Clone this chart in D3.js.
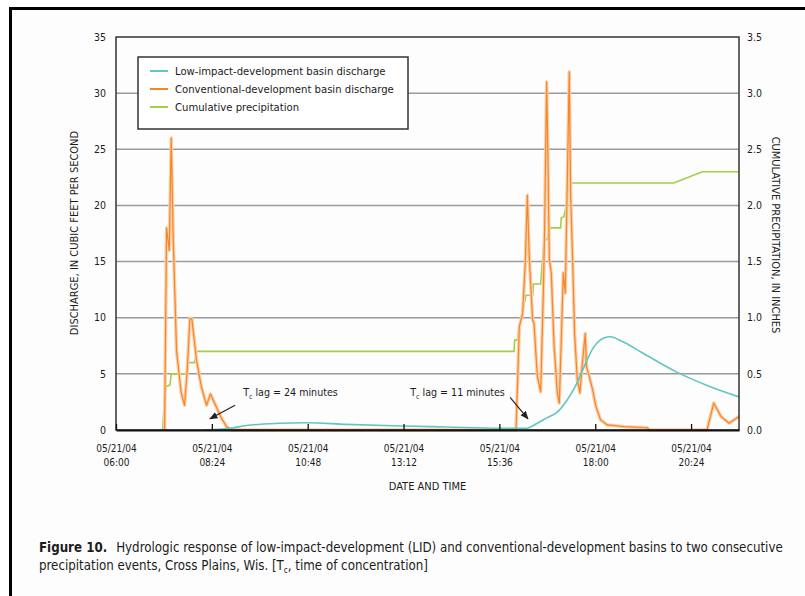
<!DOCTYPE html>
<html>
<head>
<meta charset="utf-8">
<script src="https://cdn.jsdelivr.net/npm/d3@7"></script>
<style>
  body { margin: 0; background: #fff; }
  svg text { font-family: "Liberation Sans Narrow", "DejaVu Sans Condensed", "Arial Narrow", sans-serif; fill: #1c1c1c; }
</style>
</head>
<body>
<svg width="805" height="596"></svg>
<script>
// axis ticks
const tickTimes = ["06:00", "08:24", "10:48", "13:12", "15:36", "18:00", "20:24"];
const dischargeTicks = [0, 5, 10, 15, 20, 25, 30, 35];
const precipTicks = [0, 0.5, 1, 1.5, 2, 2.5, 3, 3.5];

// low-impact-development basin discharge (ft3/s)
const lidTimes = ["08:13", "08:51", "09:16", "10:06", "10:46", "11:46", "13:10", "14:16", "15:36", "16:16", "16:21", "16:33", "16:48",
  "17:03", "17:18", "17:31", "17:43", "17:58", "18:13", "18:23", "18:40", "19:10", "20:01", "20:51", "21:36"];
const lidValues = [0, 0.15, 0.4, 0.6, 0.65, 0.5, 0.36, 0.27, 0.15, 0.15, 0.22, 0.6, 1.1,
  1.6, 2.7, 4.0, 5.6, 7.4, 8.2, 8.3, 7.9, 6.9, 5.2, 3.9, 2.95];

// conventional-development basin discharge (ft3/s)
const convTimes = ["07:13", "07:16", "07:18", "07:20", "07:23", "07:26", "07:31", "07:38", "07:43", "07:47", "07:51", "07:54", "08:01",
  "08:08", "08:16", "08:22", "08:28", "08:38", "08:46", "08:54",
  "16:01", "16:06", "16:11", "16:15", "16:18", "16:21", "16:26", "16:28", "16:33", "16:38", "16:42", "16:44", "16:47", "16:49",
  "16:51", "16:54", "16:58", "17:03", "17:06", "17:09", "17:12", "17:15", "17:21", "17:23", "17:26", "17:29", "17:33", "17:37",
  "17:40", "17:45", "17:47", "17:51", "17:56", "18:01", "18:08", "18:18", "18:43", "19:18", "19:22", "20:48", "20:58", "21:09",
  "21:21", "21:36"];
const convValues = [0, 18, 17, 16, 26, 17, 7, 3.3, 2.2, 5.3, 9.9, 9.9, 6.2,
  3.9, 2.2, 3.2, 2.4, 1.1, 0.3, 0,
  0, 9.2, 10.4, 15, 20.9, 15.2, 9.8, 9.5, 4.8, 3.4, 12.2, 18, 31, 24,
  15.2, 14, 7.7, 3.3, 2.4, 8, 14, 12.2, 31.9, 21, 15.2, 8.6, 4.5, 3.3,
  5.5, 8.6, 5.6, 4.8, 3.6, 2.1, 0.9, 0.45, 0.3, 0.2, 0, 0, 2.4, 1.2,
  0.6, 1.2];

// cumulative precipitation (inches)
const precipTimes = ["07:10", "07:13", "07:16", "07:21", "07:23", "07:45", "07:48", "07:58", "08:01", "15:58", "15:59", "16:03",
  "16:06", "16:16", "16:26", "16:27", "16:38", "16:43", "16:48", "16:51", "17:08", "17:09", "17:13", "17:16", "17:21",
  "19:58", "20:41", "21:36"];
const precipValues = [0, 0.3, 0.39, 0.4, 0.5, 0.5, 0.6, 0.6, 0.7, 0.7, 0.8, 0.8,
  0.92, 1.2, 1.2, 1.3, 1.3, 1.68, 1.7, 1.8, 1.8, 1.89, 1.9, 1.99, 2.2,
  2.2, 2.3, 2.3];

const seriesNames = ["Low-impact-development basin discharge", "Conventional-development basin discharge", "Cumulative precipitation"];
const seriesColors = ["#62c6c0", "#f5862b", "#9fd048"];

const parseTime = s => d3.timeParse("%Y-%m-%d %H:%M")("2004-05-21 " + s);
const toPoints = (times, values) => times.map((t, i) => ({ t: parseTime(t), v: values[i] }));

const svg = d3.select("svg");
const plotLeft = 116, plotRight = 739, plotTop = 37, plotBottom = 430;

// outer frame
svg.append("rect").attr("x", 10.5).attr("y", 8.5).attr("width", 820).attr("height", 620)
  .attr("fill", "#fdfdfd").attr("stroke", "#000").attr("stroke-width", 3);

const x = d3.scaleTime().domain([parseTime("06:00"), parseTime("21:36")]).range([plotLeft, plotRight]);
const yL = d3.scaleLinear().domain([0, 35]).range([plotBottom, plotTop]);
const yR = d3.scaleLinear().domain([0, 3.5]).range([plotBottom, plotTop]);

// gridlines
svg.append("g").selectAll("line").data(dischargeTicks.slice(1, -1)).enter().append("line")
  .attr("x1", plotLeft).attr("x2", plotRight).attr("y1", d => yL(d)).attr("y2", d => yL(d))
  .attr("stroke", "#9a9a9a").attr("stroke-width", 1.5);

// legend box (drawn before lines, sits over gridline)
const lg = svg.append("g").attr("transform", "translate(138,57)");
lg.append("rect").attr("width", 270).attr("height", 72).attr("fill", "#fff").attr("stroke", "#333").attr("stroke-width", 1.5);
const li = lg.selectAll("g").data(seriesNames).enter().append("g")
  .attr("transform", (d, i) => "translate(0," + (14 + i * 18) + ")");
li.append("line").attr("x1", 12).attr("x2", 30).attr("stroke", (d, i) => seriesColors[i]).attr("stroke-width", 2);
li.append("text").attr("x", 37).attr("dy", "0.35em").attr("font-size", 11.2).text(d => d);

// lines
const lineL = d3.line().x(d => x(d.t)).y(d => yL(d.v));
const lineR = d3.line().x(d => x(d.t)).y(d => yR(d.v));

svg.append("path").datum(toPoints(precipTimes, precipValues))
  .attr("fill", "none").attr("stroke", seriesColors[2]).attr("stroke-width", 1.6).attr("d", lineR);

const conv = toPoints(convTimes, convValues);
svg.append("path").datum(conv)
  .attr("fill", "none").attr("stroke", "#fbcfa8").attr("stroke-width", 3.5).attr("stroke-linejoin", "round").attr("d", lineL);
svg.append("path").datum(conv)
  .attr("fill", "none").attr("stroke", seriesColors[1]).attr("stroke-width", 1.2).attr("stroke-linejoin", "round").attr("d", lineL);

svg.append("path").datum(toPoints(lidTimes, lidValues))
  .attr("fill", "none").attr("stroke", seriesColors[0]).attr("stroke-width", 1.6)
  .attr("d", d3.line().curve(d3.curveMonotoneX).x(d => x(d.t)).y(d => yL(d.v)));

// plot border
svg.append("rect").attr("x", plotLeft).attr("y", plotTop).attr("width", plotRight - plotLeft).attr("height", plotBottom - plotTop)
  .attr("fill", "none").attr("stroke", "#333").attr("stroke-width", 1.5);

// x axis
const xAxis = svg.append("g").attr("transform", "translate(0," + plotBottom + ")")
  .call(d3.axisBottom(x).tickValues(tickTimes.map(parseTime)).tickSizeInner(-6).tickSizeOuter(0).tickFormat(""));
xAxis.select(".domain").attr("stroke", "#111").attr("stroke-width", 2.2);
xAxis.selectAll(".tick line").attr("stroke", "#111").attr("stroke-width", 1.3);
const xl = xAxis.selectAll(".tick").append("text").attr("fill", "#1c1c1c").attr("font-size", 10).attr("text-anchor", "middle");
xl.append("tspan").attr("x", 0).attr("y", 22).text("05/21/04");
xl.append("tspan").attr("x", 0).attr("y", 36).text((d, i) => tickTimes[i]);

// left / right tick labels
svg.append("g").selectAll("text").data(dischargeTicks).enter().append("text")
  .attr("x", 106).attr("y", d => yL(d)).attr("dy", "0.35em").attr("text-anchor", "end").attr("font-size", 10.5)
  .text(d => d);
svg.append("g").selectAll("text").data(precipTicks).enter().append("text")
  .attr("x", 747).attr("y", d => yR(d)).attr("dy", "0.35em").attr("font-size", 10.5)
  .text(d => d3.format(".1f")(d));

// axis titles
svg.append("text").attr("transform", "translate(78,233) rotate(-90)").attr("text-anchor", "middle").attr("font-size", 11)
  .text("DISCHARGE, IN CUBIC FEET PER SECOND");
svg.append("text").attr("transform", "translate(772,235) rotate(90)").attr("text-anchor", "middle").attr("font-size", 11)
  .text("CUMULATIVE PRECIPITATION, IN INCHES");
svg.append("text").attr("x", (plotLeft + plotRight) / 2).attr("y", 490).attr("text-anchor", "middle").attr("font-size", 11)
  .text("DATE AND TIME");

// Tc lag annotations
const lagText = ["24 minutes", "11 minutes"];
const lagTextAt = [["09:11", 3.0], ["13:22", 3.0]];
const lagArrow = [[["08:59", 2.2], ["08:21", 1.0]], [["15:52", 2.9], ["16:19", 1.0]]];

svg.append("defs").append("marker").attr("id", "arr").attr("viewBox", "0 0 10 10").attr("refX", 9).attr("refY", 5)
  .attr("markerWidth", 7).attr("markerHeight", 7).attr("orient", "auto")
  .append("path").attr("d", "M0,1L10,5L0,9Z").attr("fill", "#222");

lagText.forEach((s, i) => {
  const t = svg.append("text").attr("x", x(parseTime(lagTextAt[i][0]))).attr("y", yL(lagTextAt[i][1])).attr("font-size", 10.6);
  t.append("tspan").text("T");
  t.append("tspan").attr("font-size", 7).attr("dy", 3).text("c");
  t.append("tspan").attr("dy", -3).text(" lag = " + s);
  const a = lagArrow[i];
  svg.append("line")
    .attr("x1", x(parseTime(a[0][0]))).attr("y1", yL(a[0][1]))
    .attr("x2", x(parseTime(a[1][0]))).attr("y2", yL(a[1][1]))
    .attr("stroke", "#222").attr("stroke-width", 1.2).attr("marker-end", "url(#arr)");
});

// caption
const c1 = svg.append("text").attr("x", 39).attr("y", 552).attr("font-size", 13.2);
c1.append("tspan").attr("font-weight", "bold").text("Figure 10.");
c1.append("tspan").attr("dx", 9).text("Hydrologic response of low-impact-development (LID) and conventional-development basins to two consecutive");
const c2 = svg.append("text").attr("x", 39).attr("y", 570).attr("font-size", 13.2);
c2.append("tspan").text("precipitation events, Cross Plains, Wis. [T");
c2.append("tspan").attr("font-size", 8).attr("dy", 3).text("c");
c2.append("tspan").attr("dy", -3).text(", time of concentration]");
</script>
</body>
</html>
